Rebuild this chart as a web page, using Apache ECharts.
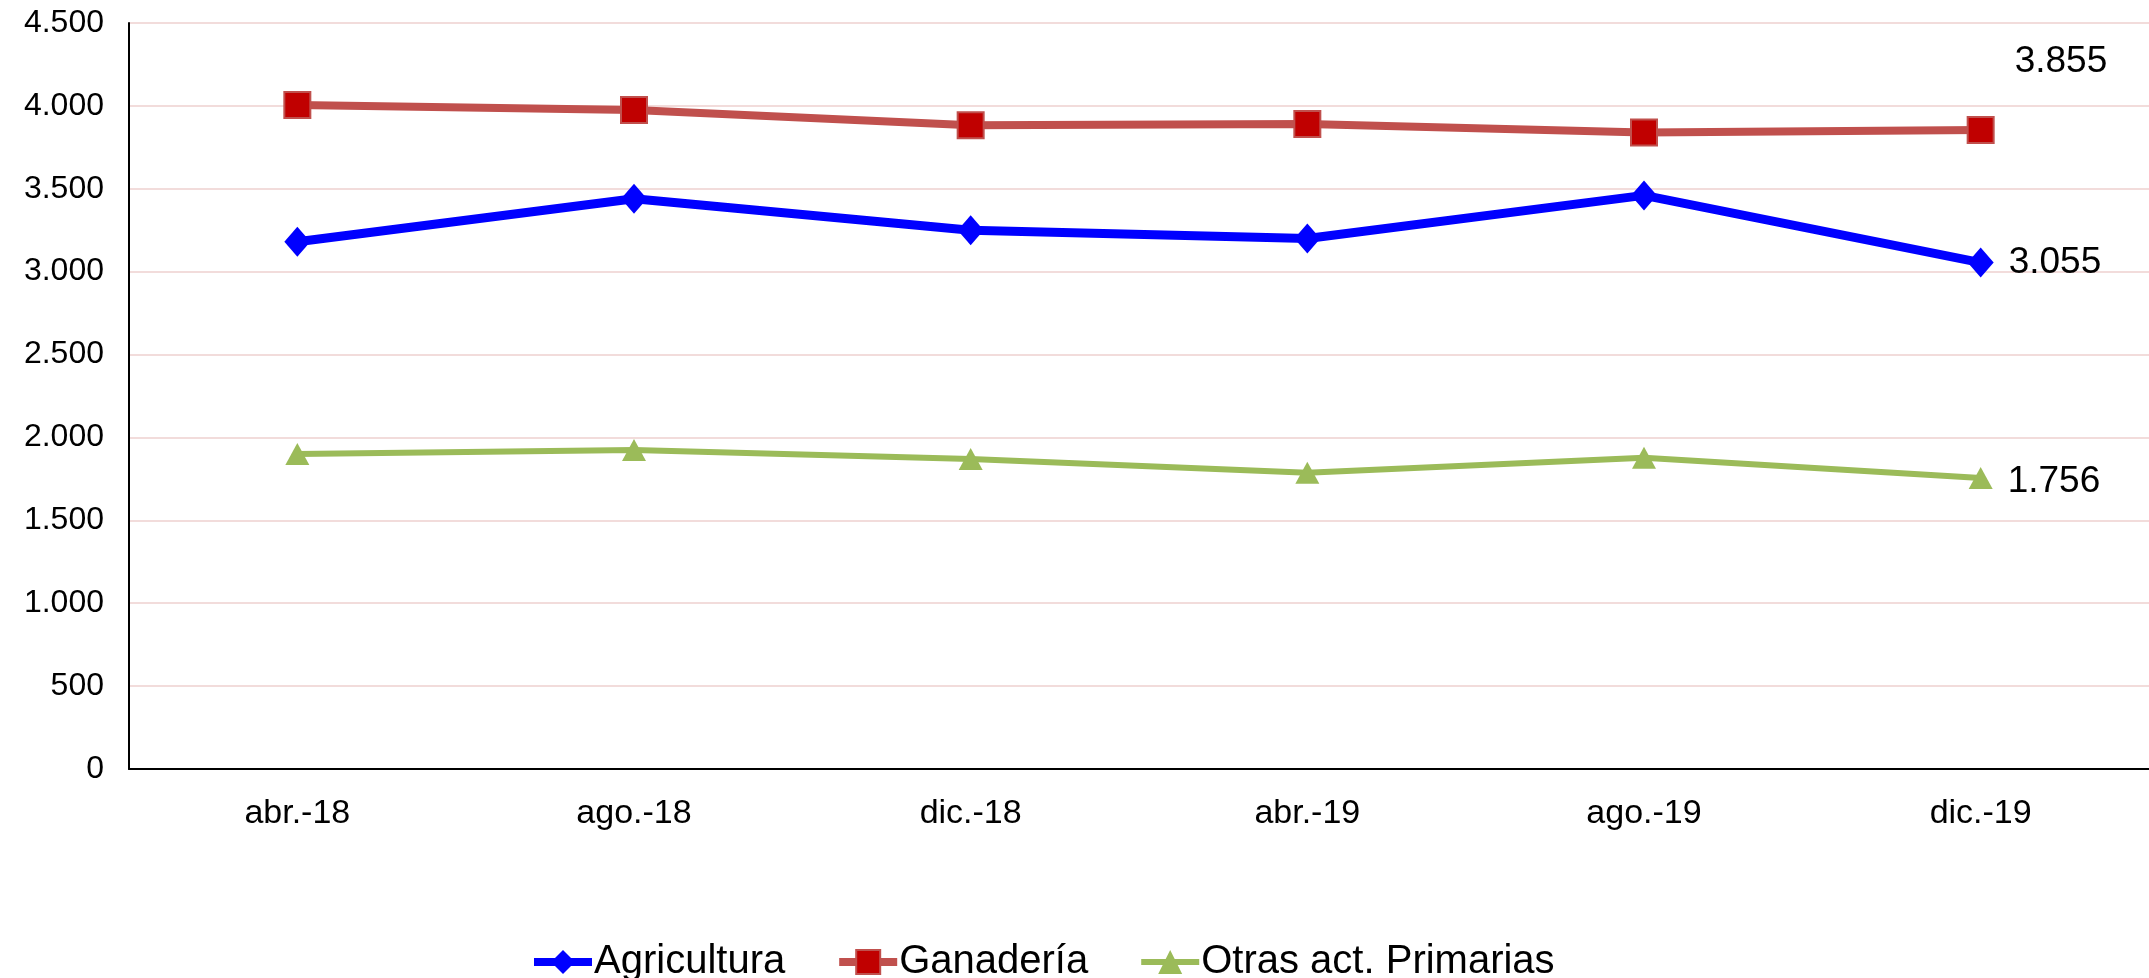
<!DOCTYPE html>
<html>
<head>
<meta charset="utf-8">
<script src="https://cdn.jsdelivr.net/npm/echarts@6/dist/echarts.min.js"></script>
<style>
html,body{margin:0;padding:0;background:#fff;}
#chart{width:2149px;height:978px;}
</style>
</head>
<body>
<div id="chart"></div>
<script>
const categories = ['abr.-18','ago.-18','dic.-18','abr.-19','ago.-19','dic.-19'];
const agricultura = [3180, 3440, 3250, 3200, 3460, 3055];
const ganaderia = [4005, 3975, 3883, 3891, 3840, 3855];
const otras = [1900, 1925, 1870, 1787, 1878, 1756];
const seriesNames = ['Agricultura', 'Ganadería', 'Otras act. Primarias'];

function fmt(v){
  const s = String(Math.round(v));
  return s.replace(/\B(?=(\d{3})+(?!\d))/g, '.');
}
const FONT = '"Liberation Sans", Arial, sans-serif';

function withLastLabel(arr, labelOpts){
  return arr.map((v,i)=> i === arr.length-1 ? {value:v, label: Object.assign({show:true, formatter: p=>fmt(p.value), color:'#000', fontSize:37, fontFamily:FONT}, labelOpts)} : v);
}

const chart = echarts.init(document.getElementById('chart'), null, {renderer:'canvas'});
chart.setOption({
  animation:false,
  backgroundColor:'#fff',
  grid:{left:129, right:0, top:23, bottom:209, containLabel:false},
  legend:{
    data: [
      {name:seriesNames[0], lineStyle:{width:8}},
      {name:seriesNames[1], lineStyle:{width:8}},
      {name:seriesNames[2], lineStyle:{width:6}}
    ],
    left:525, top:937,
    itemWidth:58, itemHeight:30, itemGap:50,
    textStyle:{fontSize:40, fontFamily:FONT, color:'#000', padding:[0,0,0,-3]}
  },
  xAxis:{
    type:'category', data:categories, boundaryGap:true,
    axisLine:{lineStyle:{color:'#000', width:2}},
    axisTick:{show:false},
    axisLabel:{fontSize:34, fontFamily:FONT, color:'#000', margin:28},
    splitLine:{show:false}
  },
  yAxis:{
    type:'value', min:0, max:4500, interval:500,
    axisLine:{show:true, lineStyle:{color:'#000', width:2}},
    axisTick:{show:false},
    axisLabel:{fontSize:32, fontFamily:FONT, color:'#000', margin:25, formatter:fmt},
    splitLine:{lineStyle:{color:'#F2DCDB', width:2}}
  },
  series:[
    {
      name:seriesNames[0], type:'line', data:withLastLabel(agricultura,{position:'right', distance:15}),
      symbol:'diamond', symbolSize:[26,30],
      lineStyle:{color:'#0000FF', width:9},
      itemStyle:{color:'#0000FF'}, z:3
    },
    {
      name:seriesNames[1], type:'line', data:withLastLabel(ganaderia,{position:'right', distance:20, offset:[0,-68]}),
      symbol:'rect', symbolSize:26,
      lineStyle:{color:'#C0504D', width:8},
      itemStyle:{color:'#C00000', borderColor:'#C0504D', borderWidth:2}, z:2
    },
    {
      name:seriesNames[2], type:'line', data:withLastLabel(otras,{position:'right', distance:15, offset:[0,4]}),
      symbol:'triangle', symbolSize:[24,22],
      lineStyle:{color:'#9BBB59', width:6},
      itemStyle:{color:'#9BBB59'}, z:1
    }
  ]
});
</script>
</body>
</html>
